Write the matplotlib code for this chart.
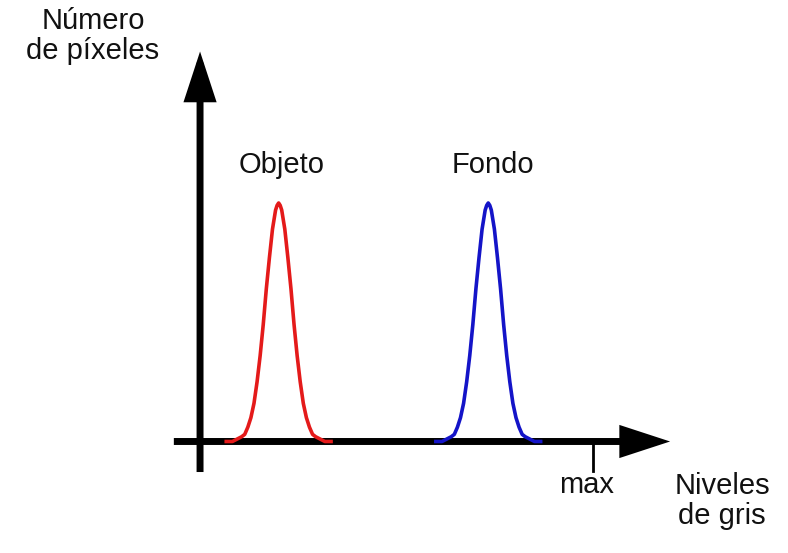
import matplotlib
matplotlib.use("Agg")
import matplotlib.pyplot as plt

plt.rcParams['font.family'] = ['Liberation Sans', 'DejaVu Sans']

# histograma bimodal: objeto (oscuro) y fondo (claro)
grises_objeto = [17, 21, 24, 27, 29, 31, 33, 35, 37, 39, 41, 43, 45, 47, 49, 50, 51, 52,
                 53, 55, 57, 59, 61, 63, 65, 67, 69, 71, 73, 75, 78, 81, 85]
grises_fondo = [153, 157, 160, 163, 165, 167, 169, 171, 173, 175, 177, 179, 181, 183, 185, 186, 187, 188,
                189, 191, 193, 195, 197, 199, 201, 203, 205, 207, 209, 211, 214, 217, 221]
pixeles_objeto = [0, 0, 1, 2, 3, 6, 10, 16, 25, 36, 49, 64, 77, 89, 97, 99, 100, 99,
                  97, 89, 77, 64, 49, 36, 25, 16, 10, 6, 3, 2, 1, 0, 0]
pixeles_fondo = [0, 0, 1, 2, 3, 6, 10, 16, 25, 36, 49, 64, 77, 89, 97, 99, 100, 99,
                 97, 89, 77, 64, 49, 36, 25, 16, 10, 6, 3, 2, 1, 0, 0]
nivel_max = 255
etiquetas = ["Objeto", "Fondo"]

fig = plt.figure(figsize=(7.88, 5.53), dpi=100)
ax = fig.add_axes([0, 0, 1, 1])
ax.set_xlim(-129.8, 381.5)
ax.set_ylim(-46.75, 185.1)
ax.axis('off')

# ejes con flechas
flecha = dict(arrowstyle='-|>,head_length=2.6,head_width=0.85', lw=5,
              color='black', mutation_scale=10, shrinkA=0, shrinkB=0,
              joinstyle='miter', capstyle='butt')
ax.annotate('', xy=(305, 0), xytext=(-17, 0), arrowprops=flecha)
ax.annotate('', xy=(0, 163.5), xytext=(0, -12.8), arrowprops=flecha)
ax.plot([nivel_max, nivel_max], [0, -12.4], color='black', lw=2)

ax.plot(grises_objeto, pixeles_objeto, color='#e41a1a', lw=2.6, zorder=5)
ax.plot(grises_fondo, pixeles_fondo, color='#1414c8', lw=2.6, zorder=5)

txt = dict(fontsize=21, color='#111111', ha='center', va='baseline', linespacing=1.1)
ax.text(grises_objeto[16] + 2, 112.6, etiquetas[0], **txt)
ax.text(grises_fondo[16] + 3, 112.6, etiquetas[1], **txt)
ax.text(nivel_max - 4.5, -21.6, "max", **txt)
# en texto de varias lineas 'baseline' alinea la ultima linea
fig.text(93 / 788, 1 - 59 / 553, "Número\nde píxeles", **txt)
fig.text(722 / 788, 1 - 524 / 553, "Niveles\nde gris", **txt)

fig.savefig('out.png', dpi=100, facecolor='white')
